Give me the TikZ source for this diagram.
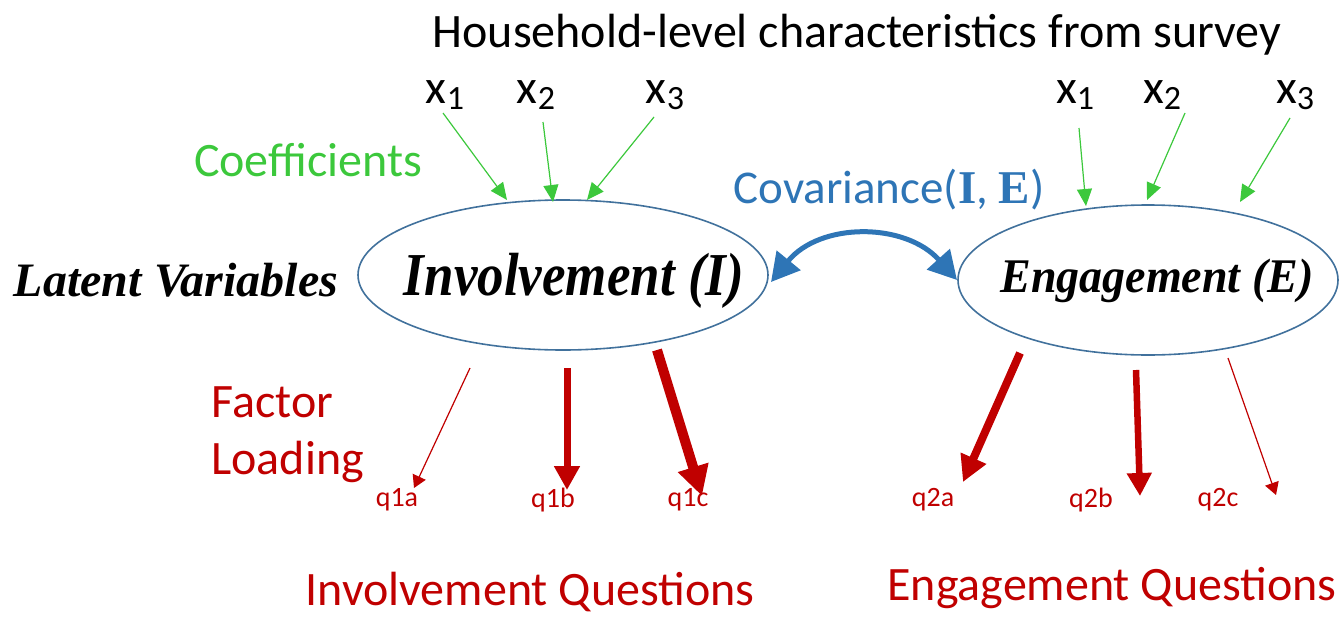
\documentclass[tikz,border=0pt]{standalone}
\usepackage{fontspec}
\setmainfont{Carlito}
\newfontfamily\serifbi{Liberation Serif}
\usetikzlibrary{shapes.geometric,arrows.meta}
\definecolor{coefgreen}{RGB}{60,200,60}
\definecolor{covblue}{RGB}{46,117,182}
\definecolor{loadred}{RGB}{192,0,0}
\definecolor{ellblue}{RGB}{65,113,156}
\newcommand{\fsz}[1]{\fontsize{#1}{#1}\selectfont}
\newcommand{\xvar}[1]{x\raisebox{-0.3ex}{\fsz{34}#1}}
\tikzset{
  latent/.style={draw=ellblue, line width=1.6pt, ellipse, inner sep=0pt},
  lvtext/.style={font=\serifbi\bfseries\itshape\fsz{#1}, anchor=base},
  xlab/.style={font=\fsz{48}, text=black, anchor=base},
  coef/.style={draw=coefgreen, line width=1.2pt, -{Triangle[length=17pt,width=15pt]}},
  qlab/.style={font=\fsz{28}, text=loadred},
  load/.style={draw=loadred, -{Triangle[length=#1*2pt+10pt,width=#1*1.8pt+12pt]}, line width=#1 pt},
  redtext/.style={font=\fsz{48}, text=loadred},
}
\begin{document}
\begin{tikzpicture}[x=1pt,y=-1pt]
\useasboundingbox (0,0) rectangle (1341,616);

% heading and survey covariates
\node[font=\fsz{48}] (title) at (857,35) {Household-level characteristics from survey};
\node[xlab] (ax1) at (445,103) {\xvar{1}};
\node[xlab] (ax2) at (536,103) {\xvar{2}};
\node[xlab] (ax3) at (665,103) {\xvar{3}};
\node[xlab] (bx1) at (1075,103) {\xvar{1}};
\node[xlab] (bx2) at (1162,103) {\xvar{2}};
\node[xlab] (bx3) at (1295,103) {\xvar{3}};
\node[font=\fsz{48}, text=coefgreen] (coeflab) at (308,160) {Coefficients};

% latent variables
\node[latent, minimum width=410pt, minimum height=150pt] (inv) at (563,275) {};
\node[latent, minimum width=380pt, minimum height=150pt] (eng) at (1148,280) {};
\node[lvtext=53] (invt) at (574,295) {\scalebox{1}[1.15]{Involvement (I)}};
\node[lvtext=46] (engt) at (1157,292) {\scalebox{1}[1.05]{Engagement (E)}};
\node[lvtext=48] (lv) at (176,296) {Latent Variables};

% covariate effects
\coordinate (ia1) at (443,113); \coordinate (ib1) at (507,200);
\coordinate (ia2) at (543,122); \coordinate (ib2) at (553,202);
\coordinate (ia3) at (654,117); \coordinate (ib3) at (587,200);
\coordinate (ea1) at (1079,128); \coordinate (eb1) at (1086,206);
\coordinate (ea2) at (1185,113); \coordinate (eb2) at (1147,200);
\coordinate (ea3) at (1290,118); \coordinate (eb3) at (1240,202);
\foreach \i in {1,2,3} {
  \draw[coef] (ia\i) -- (ib\i);
  \draw[coef] (ea\i) -- (eb\i);
}

% covariance
\node[font=\fsz{47}, text=covblue] (cov) at (889,190) {Covariance(\serifbi\bfseries I\normalfont, \serifbi\bfseries E\normalfont)};
\coordinate (cs) at (771,282);
\coordinate (ce) at (957,280);
\draw[covblue, line width=5pt, {Triangle[length=28pt,width=30pt]}-{Triangle[length=28pt,width=30pt]}]
  (cs) .. controls (820,222) and (905,222) .. (ce);

% factor loadings
\node[redtext, align=left, anchor=west] (fl) at (208,435) {Factor\\[9pt]Loading};
\node[qlab] (q1a) at (397,500) {q1a};
\node[qlab] (q1b) at (553,500) {q1b};
\node[qlab] (q1c) at (688,500) {q1c};
\node[qlab] (q2a) at (933,500) {q2a};
\node[qlab] (q2b) at (1091,500) {q2b};
\node[qlab] (q2c) at (1218,500) {q2c};
\coordinate (la1) at (470,368); \coordinate (lb1) at (414,488);
\coordinate (la2) at (567,368); \coordinate (lb2) at (567,490);
\coordinate (la3) at (657,350); \coordinate (lb3) at (702,496);
\coordinate (ma1) at (1020,353); \coordinate (mb1) at (963,482);
\coordinate (ma2) at (1136,370); \coordinate (mb2) at (1140,496);
\coordinate (ma3) at (1228,358); \coordinate (mb3) at (1276,495);
\draw[load=1.2] (la1) -- (lb1);
\draw[load=7] (la2) -- (lb2);
\draw[load=10] (la3) -- (lb3);
\draw[load=8] (ma1) -- (mb1);
\draw[load=6.5] (ma2) -- (mb2);
\draw[load=1.2] (ma3) -- (mb3);

\node[redtext] (iq) at (530,592) {Involvement Questions};
\node[redtext] (eq) at (1112,588) {Engagement Questions};
\end{tikzpicture}
\end{document}
